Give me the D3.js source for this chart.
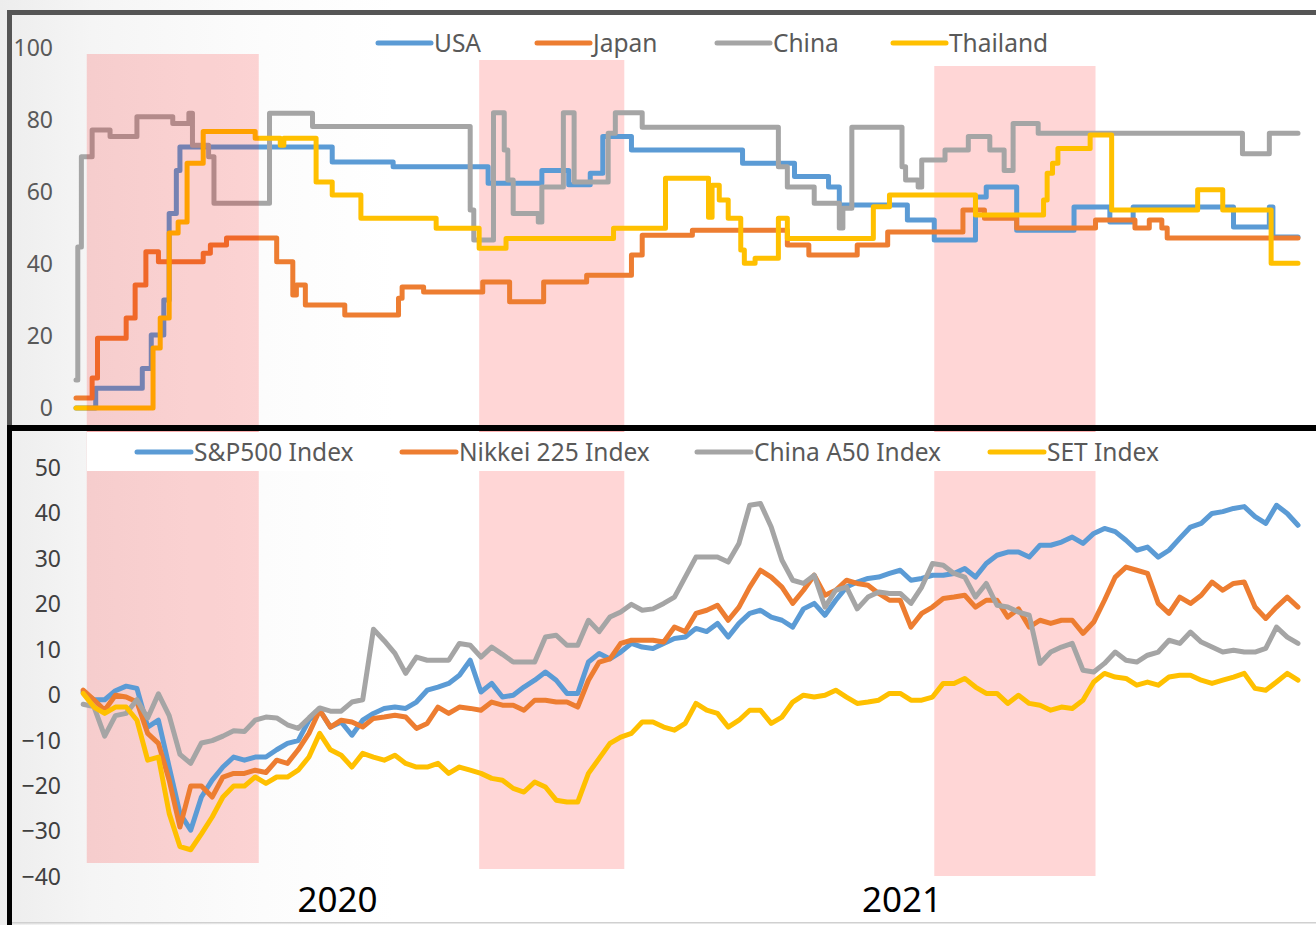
<!DOCTYPE html>
<html>
<head>
<meta charset="utf-8">
<script src="https://cdn.jsdelivr.net/npm/d3@7"></script>
<style>
html,body{margin:0;padding:0;background:#fff;}
svg{display:block;}
</style>
</head>
<body>
<svg id="c" width="1316" height="925"></svg>
<script>
// ---------------- DATA ----------------
// Top panel: stringency index (step changes: date, value)
const usaStringency = [["2020-01-22",0],["2020-02-02",5.5],["2020-02-28",11],["2020-03-04",20.3],["2020-03-11",30],["2020-03-14",54],["2020-03-18",66],["2020-03-20",72.5],["2020-06-13",68.3],["2020-07-17",67],["2020-09-08",62.4],["2020-10-08",66],["2020-10-23",62],["2020-11-04",65.2],["2020-11-11",75.4],["2020-11-27",71.7],["2021-01-28",68],["2021-02-26",64.3],["2021-03-17",61.4],["2021-03-23",56.4],["2021-04-30",52.2],["2021-05-15",46.7],["2021-06-07",58.6],["2021-06-13",61.4],["2021-06-30",49.4],["2021-08-01",55.8],["2021-08-21",51.7],["2021-09-03",55.8],["2021-10-29",50.3],["2021-11-18",55.8],["2021-11-20",47.5],["2021-12-04",47.5]];
const japanStringency = [["2020-01-22",2.8],["2020-01-31",8.3],["2020-02-03",19.4],["2020-02-19",25],["2020-02-24",34.2],["2020-03-01",43.4],["2020-03-08",40.6],["2020-04-02",43],["2020-04-06",45.3],["2020-04-15",47.2],["2020-05-13",40.6],["2020-05-22",31.4],["2020-05-24",34.2],["2020-05-29",28.6],["2020-06-20",25.8],["2020-07-20",30.5],["2020-07-22",33.6],["2020-08-03",32.2],["2020-09-05",35],["2020-09-20",29.5],["2020-10-09",35],["2020-11-02",36.9],["2020-11-27",42.5],["2020-12-03",48],["2020-12-31",49.4],["2021-02-22",45.3],["2021-03-06",42.5],["2021-04-02",45.3],["2021-04-19",48.9],["2021-05-31",55],["2021-06-12",52.7],["2021-06-30",50],["2021-08-13",52.2],["2021-09-04",50],["2021-09-12",52.2],["2021-09-19",50],["2021-09-22",47.2],["2021-12-04",47.2]];
const chinaStringency = [["2020-01-22",7.8],["2020-01-23",44.7],["2020-01-25",69.8],["2020-01-31",77.2],["2020-02-10",75.4],["2020-02-25",80.9],["2020-03-16",79],["2020-03-25",81.9],["2020-03-27",73],["2020-04-05",69.8],["2020-04-08",56.9],["2020-05-09",81.9],["2020-06-02",78.2],["2020-08-29",55],["2020-08-31",46.7],["2020-09-11",82],["2020-09-17",71.7],["2020-09-19",63.3],["2020-09-22",54],["2020-10-06",51.7],["2020-10-08",61.4],["2020-10-20",82],["2020-10-26",62.8],["2020-11-14",76.3],["2020-11-18",82],["2020-12-03",78],["2021-02-17",67],["2021-02-22",61.4],["2021-03-09",56.9],["2021-03-23",50],["2021-03-25",55.5],["2021-03-30",78],["2021-04-27",67],["2021-04-29",63.3],["2021-05-06",61.4],["2021-05-08",68.9],["2021-05-21",71.7],["2021-06-03",75.4],["2021-06-15",71.7],["2021-06-23",66],["2021-06-28",79],["2021-07-12",76.3],["2021-11-03",70.6],["2021-11-18",76.3],["2021-12-04",76.3]];
const thailandStringency = [["2020-01-22",0],["2020-03-05",16.7],["2020-03-09",25],["2020-03-14",48.6],["2020-03-19",51.7],["2020-03-24",68],["2020-04-02",76.8],["2020-05-01",74.9],["2020-05-15",73],["2020-05-17",74.9],["2020-06-04",62.8],["2020-06-13",59.2],["2020-06-29",52.7],["2020-08-10",49.9],["2020-09-03",44.4],["2020-09-18",47.1],["2020-11-17",49.9],["2020-12-16",63.8],["2021-01-09",53],["2021-01-11",61.9],["2021-01-15",57.8],["2021-01-20",52.7],["2021-01-27",43.9],["2021-01-29",40.2],["2021-02-04",41.6],["2021-02-17",52.7],["2021-02-22",47.1],["2021-04-11",55.9],["2021-04-20",59.2],["2021-06-07",53.6],["2021-07-15",57.8],["2021-07-17",65.2],["2021-07-20",68],["2021-07-23",72.1],["2021-08-10",75.8],["2021-08-22",55],["2021-10-09",60.6],["2021-10-23",55],["2021-11-19",40.2],["2021-12-04",40.2]];

// Bottom panel: index change (%) sampled every 6 days from 2020-01-26
const indexStart = "2020-01-26";
const indexStepDays = 6;
const sp500 = [0.7,-1,-1,1,2,1.5,-7,-5.5,-15.8,-26,-29.7,-22.4,-18.7,-15.8,-13.6,-14.3,-13.6,-13.6,-12,-10.6,-10,-5.5,-3.3,-7,-5.9,-8.8,-5.5,-4,-2.9,
 -2.6,-2.9,-1.5,1.1,1.8,2.6,4.4,7.7,0.7,2.6,-0.4,0,1.8,3.3,5.1,3.3,0.4,0.4,7.3,9.2,8,9.5,11.4,10.6,10.3,11.4,12.5,12.8,
 14.7,14,15.8,12.8,15.8,18,18.7,17.2,16.5,15,19,20.2,17.6,20.9,23.8,24.9,25.7,26,26.8,27.5,25.3,25.7,26.4,26.4,26.8,27.9,26,29,
 30.8,31.5,31.5,30.4,33,33,33.7,34.8,33.4,35.6,36.7,36,34.1,31.9,32.6,30.4,31.9,34.5,37,37.8,40,40.4,41.1,41.5,39.3,37.8,41.8,40,37.4];
const nikkei225 = [1.1,-1,-3.3,0,-0.4,-1.5,-8.4,-10.6,-18.7,-29,-20,-20,-22.4,-18,-17.2,-17.2,-16.5,-17,-14.3,-15,-12,-8.4,-3.3,-7,-5.5,-5.9,-7,-5.1,-4.8,
 -4.4,-4.8,-7.3,-6.2,-2.6,-4,-2.6,-2.9,-3.3,-1.5,-2.2,-2.2,-3.3,-1.1,-1.1,-1.5,-1.5,-2.6,3.3,7.3,8,11.4,12.1,12.1,12.1,11.7,15,14,
 18,18.7,19.8,16.5,19.4,23.8,27.5,26,23.8,20.2,23.1,26.4,22,23.1,25.3,24.6,24.2,22.4,20.9,20.9,15,18,19.4,21.3,21.6,22,19.4,20.9,
 20.9,17.2,19,15,16.5,15.8,16.5,16.5,13.6,16.1,20.9,26,28.2,27.5,26.8,20.2,18,21.6,20.2,22,24.9,23.1,24.6,24.9,19.4,16.9,19.4,21.6,19.4];
const chinaA50 = [-2,-2.5,-9,-4.5,-4,-1,-5,0.3,-4.5,-13,-15,-10.5,-10,-9,-7.8,-8,-5.5,-4.8,-5,-6.5,-7.3,-5,-2.8,-3.5,-3.5,-1.5,-1,14.5,12,
 9.2,4.8,8.4,7.7,7.7,7.7,11.4,11,8.4,10.6,9,7.3,7.3,7.3,12.8,13.2,11,11,16.5,14,17.2,18.3,20,18.7,19,20.2,21.6,26,
 30.4,30.4,30.4,29.3,33.4,41.8,42.2,37,29.7,25.3,24.6,26.4,19.4,23.1,23.8,19,21.6,22.7,22.4,22.4,20.2,23.8,29,28.6,26.8,26,21.6,24.6,
 19.8,19.4,18.3,17.6,7,9.5,10.6,11.4,5.5,5.1,7,9.5,7.7,7.3,8.8,9.5,12.1,11.4,13.9,11.7,10.6,9.5,9.9,9.5,9.5,10.3,15,12.8,11.4];
const setIndex = [0.4,-2.6,-4,-2.6,-2.6,-5.5,-14.3,-13.6,-26,-33.3,-34,-30.5,-26.8,-22.4,-20,-20,-18,-19.4,-18,-18,-16.5,-13.6,-8.4,-12,-13.2,-15.8,-12.8,-13.6,-14.3,
 -13.2,-15,-15.8,-15.8,-15,-17.2,-15.8,-16.5,-17.2,-18.3,-18.7,-20.5,-21.3,-19.1,-20.2,-23.1,-23.5,-23.5,-17.2,-13.9,-10.6,-9.2,-8.4,-5.9,-5.9,-7,-7.7,-6.2,
 -1.8,-3.3,-4,-7,-5.5,-3.3,-3.3,-6.2,-4.8,-1.5,0,-0.4,0,1.1,-0.4,-1.8,-1.5,-1.1,0.4,0.4,-1.1,-1.1,-0.4,2.6,2.6,3.7,1.8,0.4,
 0.4,-1.8,0,-1.8,-2.2,-3.3,-2.6,-2.9,-1.1,2.9,4.8,4,3.7,2.2,2.9,2.2,4,4.4,4.4,3.3,2.6,3.3,4,4.8,1.5,1.1,2.9,4.8,3.3];

// Shaded periods
const shadedPeriods = [["2020-01-28","2020-05-03"],["2020-09-03","2020-11-23"],["2021-05-15","2021-08-13"]];

// Legends / ticks / labels
const topNames = ["USA","Japan","China","Thailand"];
const bottomNames = ["S&P500 Index","Nikkei 225 Index","China A50 Index","SET Index"];
const topTicks = [0,20,40,60,80,100];
const bottomTicks = [-40,-30,-20,-10,0,10,20,30,40,50];
const yearLabels = ["2020","2021"];
const yearLabelDates = ["2020-06-16","2021-04-27"];
const xDomain = ["2020-01-22","2021-12-04"];

// ---------------- DRAW ----------------
const FONT = '"Noto Sans", "Open Sans", sans-serif';
const colors = ["#5B9BD5","#ED7D31","#A5A5A5","#FFC000"];
const parse = d3.timeParse("%Y-%m-%d");
const svg = d3.select("#c");

const defs = svg.append("defs");
const grad = defs.append("linearGradient").attr("id","bg").attr("x1","0").attr("x2","1").attr("y1","0").attr("y2","0");
grad.append("stop").attr("offset","0").attr("stop-color","#ededed");
grad.append("stop").attr("offset","0.07").attr("stop-color","#f5f5f5");
grad.append("stop").attr("offset","0.2").attr("stop-color","#fcfcfc");
grad.append("stop").attr("offset","0.3").attr("stop-color","#ffffff");
svg.append("rect").attr("width",1316).attr("height",925).attr("fill","url(#bg)");

const x = d3.scaleTime().domain(xDomain.map(parse)).range([76, 1298]);
const yTop = d3.scaleLinear().domain([0,100]).range([408,48]);
const yBot = d3.scaleLinear().domain([-40,50]).range([877,468]);

const shadeFill = "rgb(255,0,0)", shadeOp = 0.16;
const topShadeTops = [54,60,66];
const botShadeBottoms = [863,869,876];
const LW = 5;

// top shading (periods 2,3 behind lines)
shadedPeriods.forEach((p,i)=>{
  if(i===0) return;
  svg.append("rect").attr("x",x(parse(p[0]))).attr("width",x(parse(p[1]))-x(parse(p[0])))
    .attr("y",topShadeTops[i]).attr("height",432-topShadeTops[i])
    .attr("fill",shadeFill).attr("fill-opacity",shadeOp);
});

const topSeries = [usaStringency, japanStringency, chinaStringency, thailandStringency];
const stepLine = d3.line().x(d=>x(parse(d[0]))).y(d=>yTop(d[1])).curve(d3.curveStepAfter);
topSeries.forEach((s,i)=>{
  svg.append("path").attr("d",stepLine(s)).attr("fill","none").attr("stroke",colors[i])
    .attr("stroke-width",LW).attr("stroke-linejoin","round").attr("stroke-linecap","round");
});
// first period overlays lines
{
  const p = shadedPeriods[0];
  svg.append("rect").attr("x",x(parse(p[0]))).attr("width",x(parse(p[1]))-x(parse(p[0])))
    .attr("y",topShadeTops[0]).attr("height",432-topShadeTops[0])
    .attr("fill",shadeFill).attr("fill-opacity",shadeOp);
}

// top axis
const gTop = svg.append("g").attr("transform","translate(53,0)")
  .call(d3.axisLeft(yTop).tickValues(topTicks).tickSize(0).tickPadding(0).tickFormat(d3.format("d")));
gTop.select(".domain").remove();
gTop.attr("font-family",FONT).attr("font-size",23);
gTop.selectAll("text").attr("fill","#595959");

// top legend
const topLegendX = [378,537,717,893];
topNames.forEach((n,i)=>{
  svg.append("line").attr("x1",topLegendX[i]).attr("x2",topLegendX[i]+53).attr("y1",43).attr("y2",43)
    .attr("stroke",colors[i]).attr("stroke-width",5).attr("stroke-linecap","round");
  svg.append("text").attr("x",topLegendX[i]+56).attr("y",52).text(n)
    .attr("font-family",FONT).attr("font-size",24.5).attr("fill","#595959");
});

// bottom shading
shadedPeriods.forEach((p,i)=>{
  svg.append("rect").attr("x",x(parse(p[0]))).attr("width",x(parse(p[1]))-x(parse(p[0])))
    .attr("y",431).attr("height",botShadeBottoms[i]-431)
    .attr("fill",shadeFill).attr("fill-opacity",shadeOp);
});
// legend box
svg.append("rect").attr("x",87).attr("y",432).attr("width",1113).attr("height",39).attr("fill","#ffffff");

const t0 = parse(indexStart);
const indexDates = d3.range(sp500.length).map(i=>d3.timeDay.offset(t0, indexStepDays*i));
const botSeries = [sp500, nikkei225, chinaA50, setIndex];
const valLine = d3.line().x((d,i)=>x(indexDates[i])).y(d=>yBot(d));
botSeries.forEach((s,i)=>{
  svg.append("path").attr("d",valLine(s)).attr("fill","none").attr("stroke",colors[i])
    .attr("stroke-width",LW).attr("stroke-linejoin","round").attr("stroke-linecap","round");
});

// bottom axis
const gBot = svg.append("g").attr("transform","translate(61,0)")
  .call(d3.axisLeft(yBot).tickValues(bottomTicks).tickSize(0).tickPadding(0).tickFormat(d3.format("d")));
gBot.select(".domain").remove();
gBot.attr("font-family",FONT).attr("font-size",23);
gBot.selectAll("text").attr("fill","#404040");

// bottom legend
const botLegendX = [137,402,697,990];
bottomNames.forEach((n,i)=>{
  svg.append("line").attr("x1",botLegendX[i]).attr("x2",botLegendX[i]+54).attr("y1",452).attr("y2",452)
    .attr("stroke",colors[i]).attr("stroke-width",5).attr("stroke-linecap","round");
  svg.append("text").attr("x",botLegendX[i]+57).attr("y",461).text(n)
    .attr("font-family",FONT).attr("font-size",24.5).attr("fill","#595959");
});

// year labels
yearLabels.forEach((l,i)=>{
  svg.append("text").attr("x",x(parse(yearLabelDates[i]))).attr("y",912).attr("text-anchor","middle")
    .attr("font-family",FONT).attr("font-size",35).attr("fill","#000").text(l);
});

// frames
svg.append("rect").attr("x",7).attr("y",10).attr("width",1309).attr("height",5).attr("fill","#555555");
svg.append("rect").attr("x",7).attr("y",10).attr("width",5).attr("height",418).attr("fill","#555555");
svg.append("rect").attr("x",7).attr("y",425).attr("width",1309).attr("height",6).attr("fill","#000000");
svg.append("rect").attr("x",7).attr("y",425).attr("width",5).attr("height",500).attr("fill","#000000");
svg.append("rect").attr("x",12).attr("y",922).attr("width",1304).attr("height",1.5).attr("fill","#d0d0d0");
</script>
</body>
</html>
